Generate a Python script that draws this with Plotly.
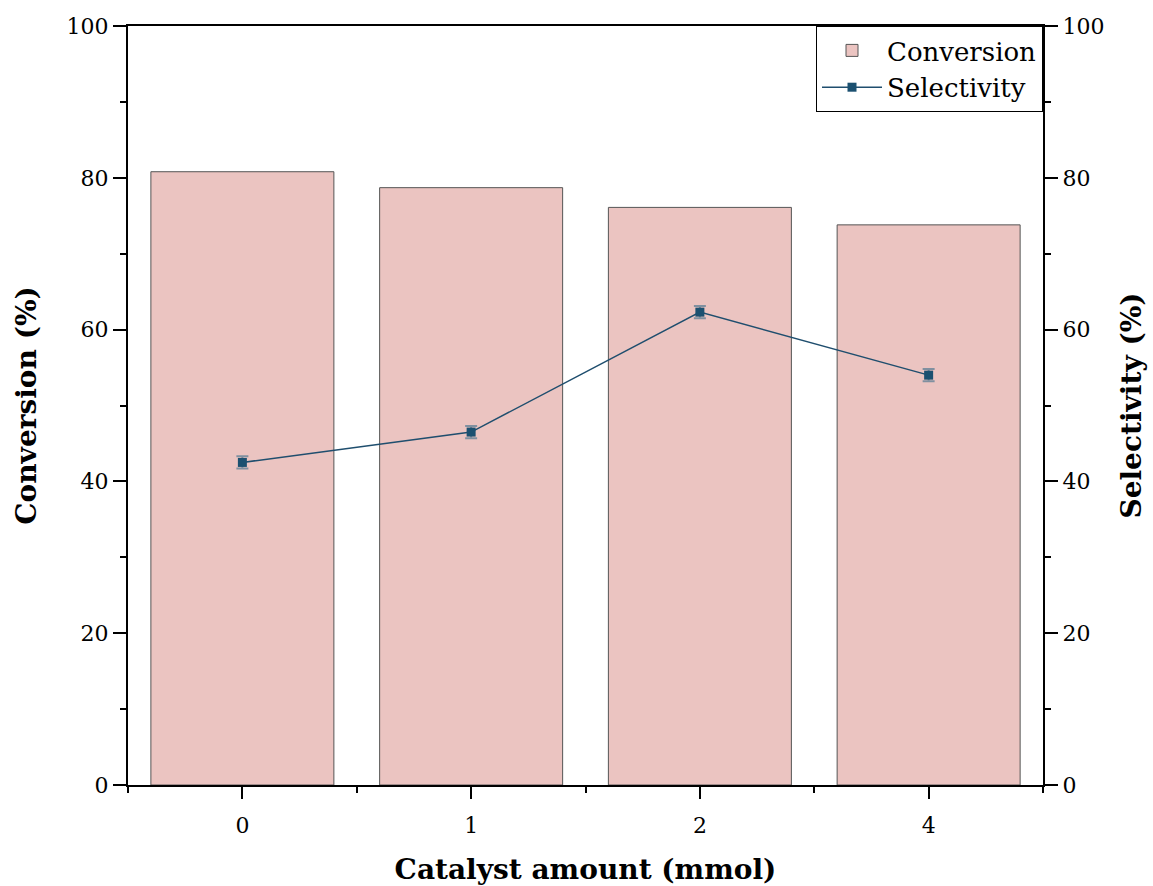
import plotly.graph_objects as go

categories = ["0", "1", "2", "4"]
conversion = [80.8, 78.7, 76.1, 73.8]
selectivity = [42.5, 46.5, 62.3, 54.0]
selectivity_err = [0.8, 0.8, 0.8, 0.8]
y_ticks = [0, 20, 40, 60, 80, 100]

xpos = list(range(len(categories)))
FONT = "DejaVu Serif"

fig = go.Figure()
fig.add_trace(go.Bar(
    x=xpos, y=conversion, name="Conversion", width=0.8,
    marker=dict(color="#EBC4C1", line=dict(color="#555555", width=1)),
    yaxis="y",
))
fig.add_trace(go.Scatter(
    x=xpos, y=selectivity, name="Selectivity", mode="lines+markers",
    line=dict(color="#1F4E6E", width=1.5),
    marker=dict(symbol="square", size=9, color="#1B5070"),
    error_y=dict(type="data", array=selectivity_err, color="#8090A0", thickness=2, width=6),
    yaxis="y2",
))

axis_common = dict(
    range=[0, 100], tickvals=y_ticks, ticks="outside", ticklen=13, tickwidth=2,
    tickcolor="black", showline=True, linecolor="black", linewidth=2,
    showgrid=False, zeroline=False, automargin=False,
    tickfont=dict(family=FONT, size=22, color="black"),
    minor=dict(tickvals=[10, 30, 50, 70, 90], ticks="outside", ticklen=6, tickwidth=2, tickcolor="black"),
)

fig.update_layout(
    width=1153, height=886,
    margin=dict(l=128, r=110, t=26, b=101),
    paper_bgcolor="white", plot_bgcolor="white",
    bargap=0.2,
    xaxis=dict(
        range=[-0.5, len(categories) - 0.5], tickvals=xpos, ticktext=categories,
        ticks="outside", ticklen=12, tickwidth=2, tickcolor="black",
        showline=True, linecolor="black", linewidth=2, mirror=True,
        showgrid=False, zeroline=False, automargin=False, ticklabelstandoff=8,
        tickfont=dict(family=FONT, size=22, color="black"),
        minor=dict(tickvals=[-0.5, 0.5, 1.5, 2.5, 3.5], ticks="outside", ticklen=6, tickwidth=2, tickcolor="black"),
        title=dict(text="<b>Catalyst amount (mmol)</b>", font=dict(family=FONT, size=28, color="black"), standoff=30),
    ),
    yaxis=dict(
        **axis_common,
        title=dict(text="<b>Conversion (%)</b>", font=dict(family=FONT, size=28, color="black"), standoff=22),
    ),
    yaxis2=dict(
        **axis_common, overlaying="y", side="right",
        title=dict(text="<b>Selectivity (%)</b>", font=dict(family=FONT, size=28, color="black"), standoff=18),
    ),
    legend=dict(
        x=1, y=1, xanchor="right", yanchor="top",
        bgcolor="white", bordercolor="black", borderwidth=1,
        font=dict(family=FONT, size=26, color="black"),
        tracegroupgap=0, itemwidth=60,
    ),
)

fig.write_html("out.html")
